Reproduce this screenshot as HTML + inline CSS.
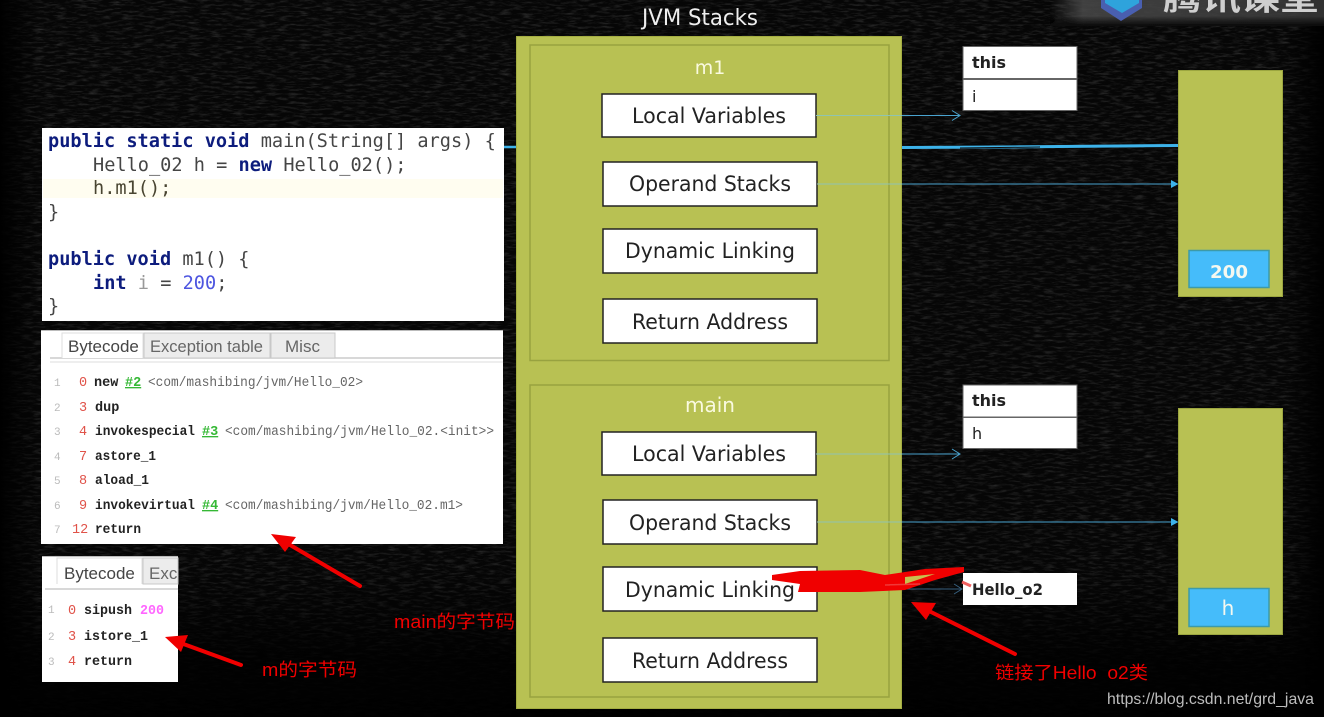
<!DOCTYPE html>
<html><head><meta charset="utf-8"><style>
html,body{margin:0;padding:0;background:#050505;width:1324px;height:717px;overflow:hidden}
svg{display:block}
.u{font-family:"DejaVu Sans","Liberation Sans",sans-serif}
.s{font-family:"Liberation Sans","Noto Sans CJK SC",sans-serif}
.m{font-family:"DejaVu Sans Mono","Liberation Mono",monospace;font-size:18.6px;fill:#454545}
.k{font-weight:bold;fill:#0f1f7d}
.b{font-family:"Liberation Mono",monospace;font-size:13.5px;font-weight:bold;fill:#222}
.g{font-family:"Liberation Mono",monospace;font-size:13.5px;fill:#666}
.n{font-family:"Liberation Mono",monospace;font-size:13.5px;fill:#e0524a}
.l{font-family:"Liberation Mono",monospace;font-size:11px;fill:#bbb}
.h{font-family:"Liberation Mono",monospace;font-size:13.5px;font-weight:bold;fill:#35b835;text-decoration:underline}
.t{font-family:"Liberation Sans","Noto Sans CJK SC",sans-serif;font-size:17px;fill:#444}
.r{font-family:"Liberation Sans","Noto Sans CJK SC",sans-serif;fill:#f00000;font-size:18px}
.v{font-family:"DejaVu Sans",sans-serif;font-size:21px;fill:#222;text-anchor:middle}
.w{fill:#fff;stroke:#222;stroke-width:1.5}
.c{fill:#fff;stroke:#666;stroke-width:1}
.o{font-family:"DejaVu Sans",sans-serif;font-size:16px;fill:#222}
</style></head><body>
<svg width="1324" height="717" viewBox="0 0 1324 717" xmlns="http://www.w3.org/2000/svg">
<defs>
<filter id="nz" x="0" y="0" width="100%" height="100%"><feTurbulence type="fractalNoise" baseFrequency="0.09 0.45" numOctaves="4" seed="7"/><feColorMatrix values="0 0 0 0 1 0 0 0 0 1 0 0 0 0 1 1.1 0 0 0 -0.5"/></filter>
<filter id="sf" x="-2%" y="-2%" width="104%" height="104%"><feGaussianBlur stdDeviation="0.35"/></filter>
<linearGradient id="wm" x1="0" x2="1" y1="0" y2="0"><stop offset="0" stop-color="#444" stop-opacity="0"/><stop offset=".12" stop-color="#4a4a4a" stop-opacity=".85"/><stop offset="1" stop-color="#3a3a3a" stop-opacity=".85"/></linearGradient>
<linearGradient id="wmv" x1="0" x2="0" y1="0" y2="1"><stop offset="0" stop-color="#000" stop-opacity="0"/><stop offset="1" stop-color="#0a0a0a" stop-opacity="1"/></linearGradient>
<linearGradient id="fade" x1="0" x2="0" y1="0" y2="1"><stop offset="0" stop-color="#000" stop-opacity="0"/><stop offset=".8" stop-color="#000" stop-opacity=".1"/><stop offset=".92" stop-color="#000" stop-opacity=".85"/><stop offset="1" stop-color="#000" stop-opacity=".95"/></linearGradient>
<linearGradient id="fr" x1="0" x2="1" y1="0" y2="0"><stop offset="0" stop-color="#000" stop-opacity="0"/><stop offset="1" stop-color="#000" stop-opacity="1"/></linearGradient>
<linearGradient id="fl" x1="0" x2="1" y1="0" y2="0"><stop offset="0" stop-color="#000" stop-opacity="1"/><stop offset="1" stop-color="#000" stop-opacity="0"/></linearGradient>
</defs>
<rect width="1324" height="717" fill="#060606"/>
<rect width="1324" height="717" filter="url(#nz)" opacity=".3"/>
<rect width="1324" height="717" fill="url(#fade)"/>
<rect x="1285" width="39" height="717" fill="url(#fr)"/>
<rect x="0" width="40" height="717" fill="url(#fl)"/>

<g filter="url(#sf)">
<!-- watermark -->
<rect x="1050" y="0" width="274" height="25" fill="url(#wm)"/>
<rect x="1050" y="16" width="274" height="10" fill="url(#wmv)"/>
<polygon points="1101,0 1142,0 1142,8 1121,21 1101,8" fill="#4a5fb0"/>
<polygon points="1105,0 1139,0 1139,3 1122,13 1105,3" fill="#2ea3dc"/>
<text x="1163" y="10" class="s" font-size="30" fill="#cfcfcf" font-weight="bold" textLength="156" lengthAdjust="spacingAndGlyphs">腾讯课堂</text>

<text x="642" y="25" class="u" font-size="22" fill="#eee" textLength="116" lengthAdjust="spacingAndGlyphs">JVM Stacks</text>

<!-- connectors behind -->
<line x1="500" y1="147" x2="520" y2="147" stroke="#3db3ea" stroke-width="2.5"/>
<path d="M902 147.5 L1000 147 L1060 146.5 L1178 145.5" stroke="#3db3ea" stroke-width="3" fill="none"/>
<path d="M960 148 L1040 147" stroke="#111" stroke-width="1" fill="none"/>

<!-- JVM stack -->
<rect x="516.5" y="36.5" width="385" height="672" fill="#b8c152" stroke="#a4ad42"/>
<rect x="530" y="45" width="359" height="315.5" fill="none" stroke="#98a240" stroke-width="1.5"/>
<rect x="530" y="385" width="359" height="312" fill="none" stroke="#98a240" stroke-width="1.5"/>
<text x="710" y="74" class="u" font-size="19" fill="#fafae0" text-anchor="middle">m1</text>
<text x="710" y="412" class="u" font-size="20" fill="#fafae0" text-anchor="middle">main</text>

<rect class="w" x="602" y="94" width="214" height="43"/>
<text class="v" x="709" y="123" textLength="154" lengthAdjust="spacingAndGlyphs">Local Variables</text>
<rect class="w" x="603" y="162" width="214" height="44"/>
<text class="v" x="710" y="191" textLength="162" lengthAdjust="spacingAndGlyphs">Operand Stacks</text>
<rect class="w" x="603" y="229" width="214" height="44"/>
<text class="v" x="710" y="258" textLength="170" lengthAdjust="spacingAndGlyphs">Dynamic Linking</text>
<rect class="w" x="603" y="299" width="214" height="44"/>
<text class="v" x="710" y="329" textLength="156" lengthAdjust="spacingAndGlyphs">Return Address</text>

<rect class="w" x="602" y="432" width="214" height="43"/>
<text class="v" x="709" y="461" textLength="154" lengthAdjust="spacingAndGlyphs">Local Variables</text>
<rect class="w" x="603" y="500" width="214" height="44"/>
<text class="v" x="710" y="530" textLength="162" lengthAdjust="spacingAndGlyphs">Operand Stacks</text>
<rect class="w" x="603" y="567" width="214" height="44"/>
<text class="v" x="710" y="597" textLength="170" lengthAdjust="spacingAndGlyphs">Dynamic Linking</text>
<rect class="w" x="603" y="638" width="214" height="44"/>
<text class="v" x="710" y="668" textLength="156" lengthAdjust="spacingAndGlyphs">Return Address</text>

<!-- thin arrows -->
<g stroke="#4aa3cf" stroke-width="1" fill="none">
<path d="M816 115.5H902" stroke="#8fc4b0"/>
<path d="M902 115.5H960M952 110.5L960 115.5L952 120.5"/>
<path d="M817 184H902" stroke="#8fc4b0"/>
<path d="M902 184H1172"/>
<path d="M816 454H902" stroke="#8fc4b0"/>
<path d="M902 454H960M952 449L960 454L952 459"/>
<path d="M817 522H902" stroke="#8fc4b0"/>
<path d="M902 522H1172"/>
<path d="M880 589H962M954 584L962 589L954 594" stroke="#37607f"/>
</g>
<polygon points="1171,180 1178.5,184 1171,188" fill="#3db3ea"/>
<polygon points="1171,518 1178.5,522 1171,526" fill="#3db3ea"/>

<!-- small tables -->
<rect class="c" x="963" y="46.5" width="114" height="32"/>
<rect class="c" x="963" y="79.5" width="114" height="31"/>
<text class="o" x="972" y="68" font-weight="600">this</text>
<text class="o" x="972" y="102">i</text>
<rect class="c" x="963" y="385" width="114" height="32"/>
<rect class="c" x="963" y="417.5" width="114" height="31"/>
<text class="o" x="972" y="406" font-weight="600">this</text>
<text class="o" x="972" y="439">h</text>
<rect fill="#fff" x="963" y="573" width="114" height="32"/>
<text class="o" x="972" y="595" font-weight="600" textLength="71" lengthAdjust="spacingAndGlyphs">Hello_o2</text>

<!-- heap boxes -->
<rect x="1178.5" y="70.5" width="104" height="226" fill="#b8c152" stroke="#9ca63f"/>
<rect x="1189" y="250.5" width="80" height="37" fill="#45bcfa" stroke="#3d9aa8" stroke-width="1.5"/>
<text x="1229" y="278" class="u" font-size="18" font-weight="600" fill="#f4f8f0" text-anchor="middle" textLength="38" lengthAdjust="spacingAndGlyphs">200</text>
<rect x="1178.5" y="408.5" width="104" height="226" fill="#b8c152" stroke="#9ca63f"/>
<rect x="1189" y="588.5" width="80" height="38" fill="#45bcfa" stroke="#3d9aa8" stroke-width="1.5"/>
<text x="1228" y="615" class="u" font-size="20" fill="#f4f8f0" text-anchor="middle">h</text>

<!-- code panel -->
<rect x="42" y="128" width="462" height="193" fill="#fff"/>
<rect x="43" y="179" width="460" height="19" fill="#fffdf0"/>
<text class="m" x="48" y="147"><tspan class="k">public static void</tspan> main(String[] args) {</text>
<text class="m" x="93" y="171">Hello_02 h = <tspan class="k">new</tspan> Hello_02();</text>
<text class="m" x="93" y="194" style="fill:#4a4530">h.m1();</text>
<text class="m" x="48" y="218">}</text>
<text class="m" x="48" y="265"><tspan class="k">public void</tspan> m1() {</text>
<text class="m" x="93" y="289"><tspan class="k">int</tspan> <tspan fill="#999">i</tspan> = <tspan fill="#4d55e0">200</tspan>;</text>
<text class="m" x="48" y="312">}</text>

<!-- bytecode panel -->
<rect x="41" y="330" width="462" height="214" fill="#fff"/>
<line x1="41" y1="330.5" x2="503" y2="330.5" stroke="#bbb"/>
<line x1="50" y1="358" x2="503" y2="358" stroke="#ccc" stroke-width="1.5"/>
<line x1="50" y1="362" x2="503" y2="362" stroke="#ddd"/>
<path d="M62 358V333H143V358" fill="#fff" stroke="#ddd"/>
<rect x="144" y="333" width="126" height="25" fill="#ececec" stroke="#c8c8c8"/>
<rect x="271" y="333" width="64" height="25" fill="#ececec" stroke="#c8c8c8"/>
<text class="t" x="68" y="352">Bytecode</text>
<text class="t" x="150" y="352" style="fill:#666" textLength="113" lengthAdjust="spacingAndGlyphs">Exception table</text>
<text class="t" x="285" y="352" style="fill:#666">Misc</text>

<g>
<text class="l" x="54" y="386">1</text><text class="n" x="79" y="386">0</text><text class="b" x="94" y="386">new</text><text class="h" x="125" y="386">#2</text><text class="g" x="148" y="386" textLength="215" lengthAdjust="spacingAndGlyphs">&lt;com/mashibing/jvm/Hello_02&gt;</text>
<text class="l" x="54" y="411">2</text><text class="n" x="79" y="411">3</text><text class="b" x="95" y="411">dup</text>
<text class="l" x="54" y="435">3</text><text class="n" x="79" y="435">4</text><text class="b" x="95" y="435" textLength="100" lengthAdjust="spacingAndGlyphs">invokespecial</text><text class="h" x="202" y="435">#3</text><text class="g" x="225" y="435" textLength="269" lengthAdjust="spacingAndGlyphs">&lt;com/mashibing/jvm/Hello_02.&lt;init&gt;&gt;</text>
<text class="l" x="54" y="460">4</text><text class="n" x="79" y="460">7</text><text class="b" x="95" y="460" textLength="61" lengthAdjust="spacingAndGlyphs">astore_1</text>
<text class="l" x="54" y="484">5</text><text class="n" x="79" y="484">8</text><text class="b" x="95" y="484" textLength="54" lengthAdjust="spacingAndGlyphs">aload_1</text>
<text class="l" x="54" y="509">6</text><text class="n" x="79" y="509">9</text><text class="b" x="95" y="509" textLength="100" lengthAdjust="spacingAndGlyphs">invokevirtual</text><text class="h" x="202" y="509">#4</text><text class="g" x="225" y="509" textLength="238" lengthAdjust="spacingAndGlyphs">&lt;com/mashibing/jvm/Hello_02.m1&gt;</text>
<text class="l" x="54" y="533">7</text><text class="n" x="72" y="533">12</text><text class="b" x="95" y="533" textLength="46" lengthAdjust="spacingAndGlyphs">return</text>
</g>

<!-- m1 bytecode panel -->
<rect x="42" y="556" width="136" height="126" fill="#fff"/>
<line x1="42" y1="556.5" x2="178" y2="556.5" stroke="#bbb"/>
<line x1="45" y1="589" x2="178" y2="589" stroke="#ccc" stroke-width="1.5"/>
<path d="M57 584V558H142V584" fill="#fff" stroke="#ddd"/>
<rect x="143" y="558" width="35" height="26" fill="#ececec" stroke="#c8c8c8"/>
<text class="t" x="64" y="579">Bytecode</text>
<svg x="143" y="556" width="35" height="30"><text class="t" x="6" y="23" style="fill:#666">Exception</text></svg>
<text class="l" x="48" y="613">1</text><text class="n" x="68" y="614">0</text><text class="b" x="84" y="614" textLength="48" lengthAdjust="spacingAndGlyphs">sipush</text><text class="b" x="140" y="614" style="fill:#ff66ff" textLength="24" lengthAdjust="spacingAndGlyphs">200</text>
<text class="l" x="48" y="640">2</text><text class="n" x="68" y="640">3</text><text class="b" x="84" y="640" textLength="64" lengthAdjust="spacingAndGlyphs">istore_1</text>
<text class="l" x="48" y="665">3</text><text class="n" x="68" y="665">4</text><text class="b" x="84" y="665" textLength="48" lengthAdjust="spacingAndGlyphs">return</text>

<!-- red scribble -->
<polygon points="772,575 800,571 860,570 885,575 925,569 964,567 964,572 935,580 905,590 860,592 798,592 800,584 772,580" fill="#f00000"/>
<polygon points="905,577 935,574 905,584" fill="#c8c050"/>
<path d="M962 582L971 586" stroke="#f06060" stroke-width="3"/>
<path d="M885 585L920 584" stroke="#f05050" stroke-width="1.5" opacity=".7"/>

<!-- red arrows -->
<g fill="#f00000" stroke="#f00000" stroke-linecap="round">
<line x1="360" y1="586" x2="285" y2="542" stroke-width="4"/>
<polygon points="271,534 296,537 285,552" stroke="none"/>
<line x1="241" y1="665" x2="178" y2="642" stroke-width="4"/>
<polygon points="165,637 188,635 181,652" stroke="none"/>
<line x1="1015" y1="654" x2="925" y2="609" stroke-width="4"/>
<polygon points="911,602 936,603 926,620" stroke="none"/>
</g>
<text class="r" x="394" y="628" textLength="121" lengthAdjust="spacingAndGlyphs">main的字节码</text>
<text class="r" x="262" y="676" textLength="95" lengthAdjust="spacingAndGlyphs">m的字节码</text>
<text class="r" x="995" y="679" textLength="153" lengthAdjust="spacingAndGlyphs">链接了Hello&#160;&#160;o2类</text>
<text x="1107" y="704" class="s" font-size="16" fill="#bdbdbd" textLength="207" lengthAdjust="spacingAndGlyphs">https://blog.csdn.net/grd_java</text>
</g>
</svg>
</body></html>
